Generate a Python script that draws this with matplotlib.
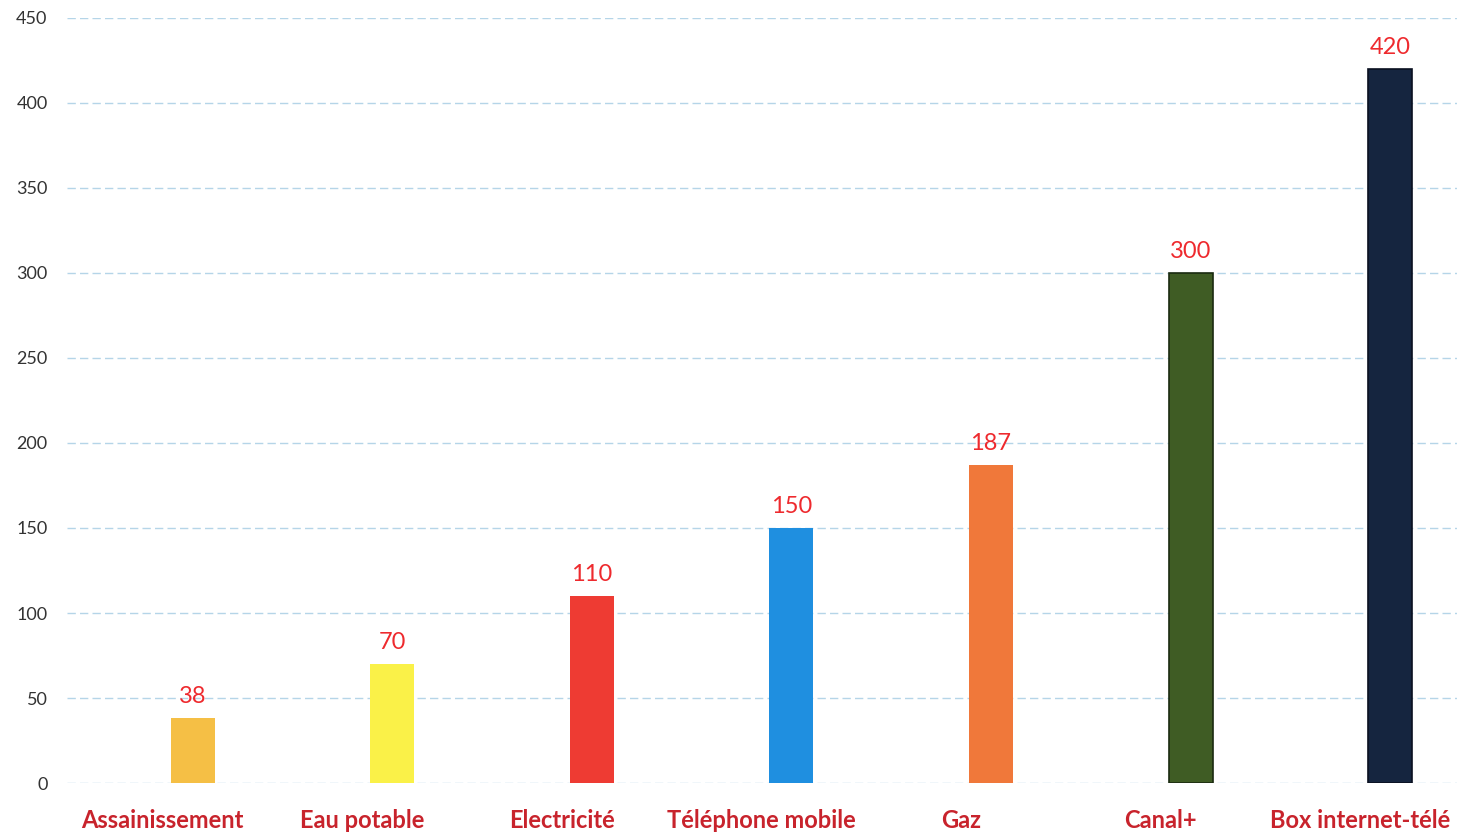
import matplotlib.pyplot as plt
from matplotlib.transforms import ScaledTranslation

categories = ["Assainissement", "Eau potable", "Electricité", "Téléphone mobile",
              "Gaz", "Canal+", "Box internet-télé"]
values = [38, 70, 110, 150, 187, 300, 420]
colors = ["#F5BF45", "#FAF148", "#EE3B33", "#1F8FE0", "#F0783A", "#3F5C24", "#15253F"]
edges = ["none", "none", "none", "none", "none", "#1a2a10", "#0a1020"]
yticks = [0, 50, 100, 150, 200, 250, 300, 350, 400, 450]

plt.rcParams['font.family'] = ['Lato', 'DejaVu Sans']

fig = plt.figure(figsize=(14.57, 8.38), dpi=100)
ax = fig.add_axes([0.046, 0.0656, 0.954, 0.913])

x = list(range(len(categories)))
bars = ax.bar(x, values, width=0.22, color=colors, edgecolor=edges, linewidth=1.2, zorder=3)

for xi, v in zip(x, values):
    ax.annotate(str(v), (xi, v), xytext=(0, 8), textcoords="offset points",
                ha="center", va="bottom", color="#EE2A2E", fontsize=17)

ax.set_ylim(0, 450)
ax.set_xlim(-0.63, 6.335)
ax.set_yticks(yticks)
ax.set_yticklabels([str(t) for t in yticks], fontsize=13, color="#333333")
ax.set_xticks(x)
ax.set_xticklabels(categories, fontsize=17, fontweight="bold", color="#C8232C")
ax.tick_params(axis="x", length=0, pad=19)
ax.tick_params(axis="y", length=0, pad=14)

# les libellés sont décalés vers la gauche dans l'original
shift = ScaledTranslation(-30 / 100, 0, fig.dpi_scale_trans)
for lab in ax.get_xticklabels():
    lab.set_transform(lab.get_transform() + shift)

ax.grid(axis="y", color="#B5D5E8", linestyle=(0, (6, 3)), linewidth=1.0, zorder=0)
for s in ax.spines.values():
    s.set_visible(False)

fig.savefig("out.png", dpi=100)
